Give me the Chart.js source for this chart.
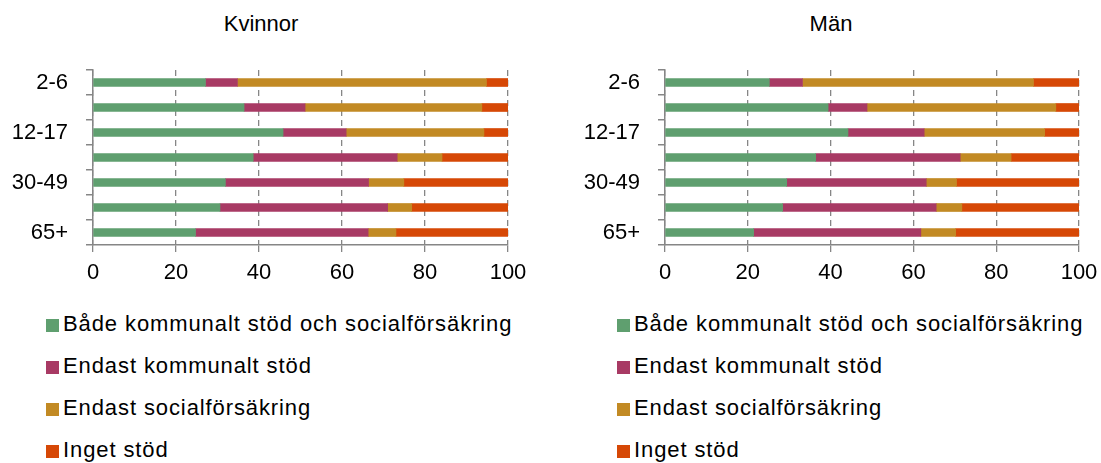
<!DOCTYPE html>
<html>
<head>
<meta charset="utf-8">
<script src="https://cdn.jsdelivr.net/npm/chart.js@4"></script>
<style>
  body { margin: 0; background: #fff; font-family: Arial, "Liberation Sans", sans-serif; }
  #wrap { position: relative; width: 1101px; height: 463px; overflow: hidden; }
  canvas { position: absolute; top: 0; }
  .titel { position: absolute; top: 13px; width: 200px; text-align: center; font-size: 22px; line-height: 22px; color: #000; }
  .item { position: absolute; height: 42px; line-height: 42px; font-size: 22px; letter-spacing: 0.9px; color: #000; white-space: nowrap; }
  .item .box { position: absolute; left: 0; top: 16px; width: 13px; height: 13px; }
  .item .txt { position: absolute; left: 17px; top: 0; }
</style>
</head>
<body>
<div id="wrap">
  <div class="titel" style="left:161px">Kvinnor</div>
  <div class="titel" style="left:731px">Män</div>
  <canvas id="chartKvinnor" width="550" height="300" style="left:0"></canvas>
  <canvas id="chartMan" width="556" height="300" style="left:550px"></canvas>
  <div id="legendKvinnor"></div>
  <div id="legendMan"></div>
</div>
<script>
// åldersgrupper (bara varannan etikett visas)
const aldrar = ["2-6", "7-11", "12-17", "18-29", "30-49", "50-64", "65+"];

const serier = [
  "Både kommunalt stöd och socialförsäkring",
  "Endast kommunalt stöd",
  "Endast socialförsäkring",
  "Inget stöd"
];
const farger = ["#5f9f6f", "#a83a64", "#c28a24", "#d64806"];

// Kvinnor, procent
const kvinnorBada = [27.1, 36.4, 45.8, 38.6, 31.9, 30.6, 24.7];
const kvinnorKommunalt = [7.7, 14.7, 15.2, 34.7, 34.5, 40.4, 41.6];
const kvinnorSocial = [60.0, 42.6, 33.2, 10.8, 8.5, 5.8, 6.7];
const kvinnorInget = [5.2, 6.3, 5.8, 15.9, 25.1, 23.2, 27.0];

// Män, procent
const manBada = [25.2, 39.4, 44.2, 36.4, 29.4, 28.4, 21.4];
const manKommunalt = [8.0, 9.4, 18.4, 34.9, 33.7, 37.1, 40.4];
const manSocial = [55.8, 45.6, 29.1, 12.3, 7.3, 6.2, 8.4];
const manInget = [11.0, 5.6, 8.3, 16.4, 29.6, 28.3, 29.8];

const xTicks = [0, 20, 40, 60, 80, 100];

const GRA = "#868686";
const FONT = { family: "Arial, 'Liberation Sans', sans-serif", size: 22 };

function ritaPanel(canvasId, varden, yBredd, padHoger) {
  const datasets = varden.map((data, i) => ({
    label: serier[i],
    data: data,
    backgroundColor: farger[i],
    borderWidth: 0,
    barThickness: 8
  }));

  return new Chart(document.getElementById(canvasId), {
    type: "bar",
    data: { labels: aldrar, datasets: datasets },
    options: {
      indexAxis: "y",
      responsive: false,
      animation: false,
      layout: { padding: { top: 70, bottom: 0, left: 0, right: padHoger } },
      plugins: {
        legend: { display: false },
        title: { display: false },
        tooltip: { enabled: false }
      },
      scales: {
        x: {
          stacked: true,
          min: 0,
          max: 100,
          afterBuildTicks: s => { s.ticks = xTicks.map(v => ({ value: v })); },
          afterFit: s => { s.height = 55; },
          grid: { color: GRA, lineWidth: 1.3, tickLength: 7 },
          border: { color: GRA, width: 1.5, dash: [6, 4] },
          ticks: { color: "#000", font: FONT, padding: 8, maxRotation: 0 }
        },
        y: {
          stacked: true,
          afterFit: s => { s.width = yBredd; },
          grid: { offset: true, drawOnChartArea: false, color: GRA, lineWidth: 1.5, tickLength: 7 },
          border: { color: GRA, width: 1.5 },
          ticks: {
            color: "#000",
            font: FONT,
            padding: 18,
            autoSkip: false,
            callback: function (val, idx) { return idx % 2 === 0 ? this.getLabelForValue(val) : ""; }
          }
        }
      }
    }
  });
}

function byggLegend(divId, vanster) {
  const div = document.getElementById(divId);
  serier.forEach((namn, i) => {
    const rad = document.createElement("div");
    rad.className = "item";
    rad.style.left = vanster + "px";
    rad.style.top = (303 + i * 42) + "px";
    rad.innerHTML = `<span class="box" style="background:${farger[i]}"></span><span class="txt">${namn}</span>`;
    div.appendChild(rad);
  });
}

ritaPanel("chartKvinnor", [kvinnorBada, kvinnorKommunalt, kvinnorSocial, kvinnorInget], 93, 42);
ritaPanel("chartMan", [manBada, manKommunalt, manSocial, manInget], 115, 27);

byggLegend("legendKvinnor", 46);
byggLegend("legendMan", 617);
</script>
</body>
</html>
